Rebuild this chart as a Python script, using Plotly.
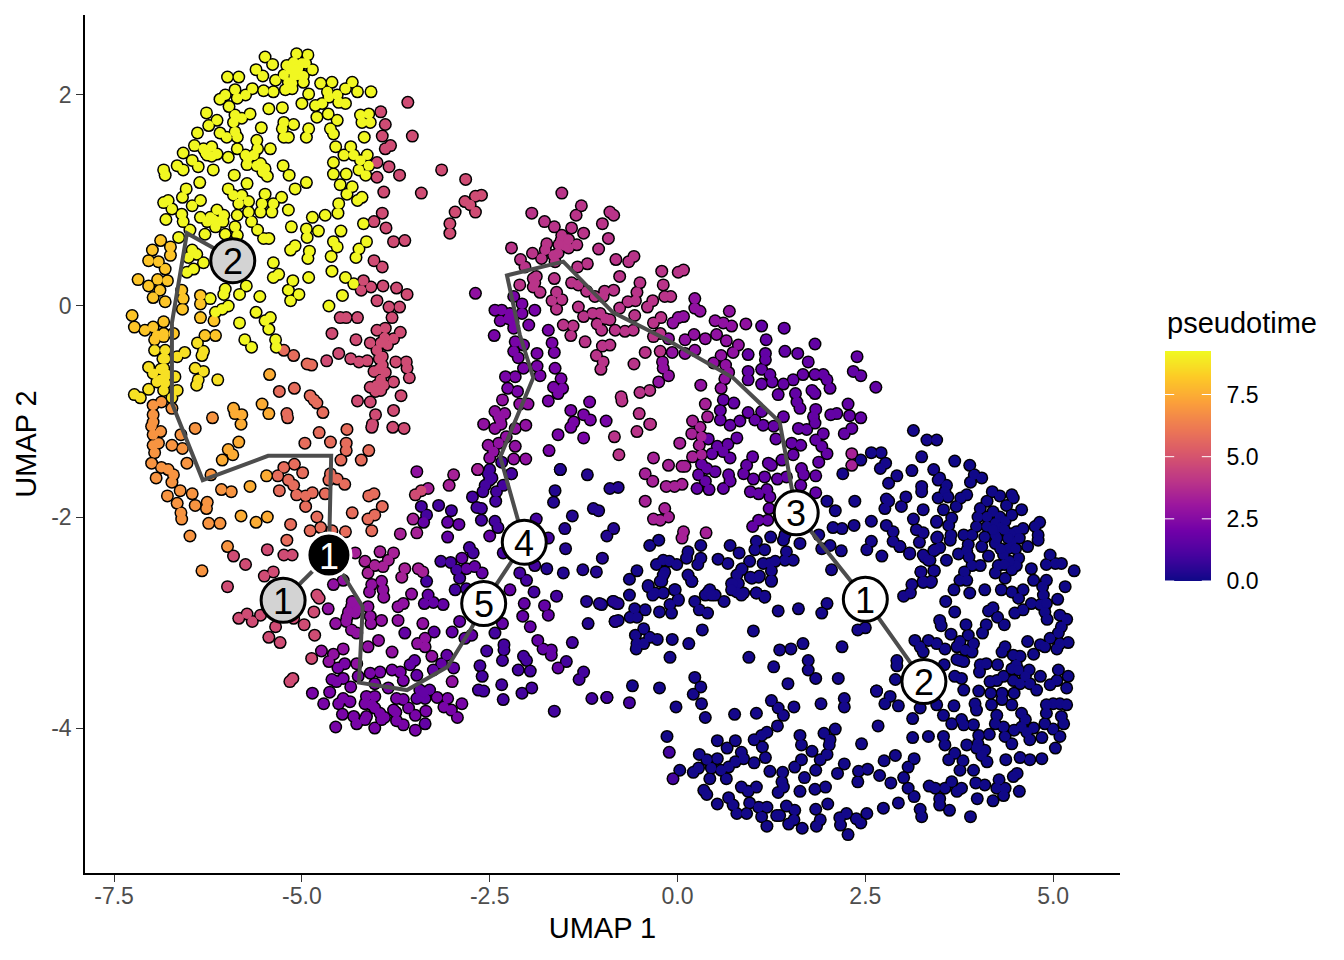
import plotly.graph_objects as go

# cells as (umap1, umap2), grouped by pseudotime shade
yellow = [(-5.07,2.39),(-4.92,2.38),(-5.49,2.36),(-5.39,2.29),(-5.11,2.31),(-4.95,2.30),(-4.86,2.24),(-5.15,2.24),(-5.61,2.24),(-5.52,2.18),(-5.24,2.19),(-5.04,2.19),(-5.99,2.17),(-5.84,2.17),(-5.35,2.14),(-5.13,2.11),(-4.98,2.12),(-4.75,2.11),(-4.60,2.12),(-5.51,2.04),(-5.38,2.03),(-5.22,2.05),(-5.13,2.06),(-4.91,2.01),(-4.66,2.03),(-4.64,1.98),(-4.53,2.0),(-4.42,2.06),(-4.33,2.12),(-4.26,2.03),(-4.08,2.03),(-4.51,1.93),(-4.42,1.92),(-5.0,1.92),(-4.82,1.90),(-4.73,1.92),(-5.44,1.87),(-5.26,1.88),
(-6.09,1.96),(-6.02,2.0),(-5.89,2.05),(-5.86,1.97),(-5.75,2.0),(-5.66,2.06),(-5.97,1.89),(-6.27,1.83),(-5.89,1.81),(-5.8,1.78),(-5.69,1.82),(-5.91,1.74),(-6.13,1.76),(-6.24,1.71),(-6.39,1.64),(-6.09,1.64),(-6.0,1.6),(-5.86,1.6),(-5.89,1.65),(-5.54,1.69),(-5.24,1.74),(-5.11,1.72),(-5.26,1.68),(-5.24,1.6),(-5.18,1.6),(-4.91,1.68),(-4.94,1.6),(-4.8,1.79),(-4.65,1.82),(-4.53,1.76),(-4.62,1.68),(-4.58,1.63),(-4.55,1.51),(-4.22,1.81),(-4.11,1.82),(-4.2,1.74),(-4.09,1.74),(-4.17,1.6),
(-6.43,1.52),(-6.58,1.45),(-6.31,1.49),(-6.2,1.51),(-6.13,1.44),(-6.26,1.43),(-5.6,1.57),(-5.42,1.49),(-5.59,1.49),(-5.86,1.49),(-5.98,1.41),(-5.75,1.43),(-5.64,1.43),(-4.35,1.51),(-4.44,1.43),(-4.58,1.36),(-4.31,1.43),(-4.13,1.43),(-4.22,1.38),(-4.11,1.33),(-4.24,1.29),(-4.15,1.24),(-4.58,1.25),(-4.41,1.25),(-6.84,1.29),(-6.82,1.24),(-6.66,1.33),(-6.58,1.29),(-6.46,1.38),(-6.38,1.32),(-6.18,1.29),(-5.73,1.34),(-5.6,1.33),(-5.49,1.3),(-5.46,1.23),(-5.9,1.24),(-5.25,1.33),(-5.17,1.24),(-5.73,1.16),(-6.36,1.17),(-5.09,1.11),(-4.94,1.17),(-4.49,1.15),(-4.33,1.13),(-4.4,1.06),(-4.2,1.03),(-4.26,1.0),(-4.51,.97),
(-6.54,1.11),(-6.59,1.03),(-6.84,.98),(-6.78,1.0),(-6.73,.92),(-6.46,.95),(-6.35,1.0),(-5.98,1.11),(-5.91,1.05),(-5.8,1.05),(-5.84,.97),(-5.71,.99),(-5.49,1.06),(-5.53,.97),(-5.27,1.03),(-5.38,.97),(-5.4,.89),(-5.55,.89),(-5.18,.91),(-6.13,.91),(-6.04,.86),(-6.22,.84),(-6.35,.84),(-6.11,.8),(-6.26,.8),(-6.6,.87),(-6.58,.8),(-6.81,.82),(-5.86,.86),(-5.71,.89),(-5.67,.8),(-5.89,.75),(-4.69,.86),(-4.52,.88),(-4.86,.84),(-4.18,.78),(-6.49,.72),(-6.64,.65),(-6.29,.68),(-6.02,.68),(-5.86,.67),(-5.59,.72),(-5.51,.64),(-5.44,.64),(-5.14,.75),(-4.94,.73),(-4.93,.65),(-4.78,.71),(-4.48,.71),
(-4.58,.61),(-4.53,.56),(-4.61,.47),(-4.14,.61),(-4.24,.54),(-4.28,.46),(-5.09,.57),(-5.15,.53),(-4.9,.52),(-4.92,.45),(-6.46,.53),(-6.4,.49),(-6.51,.46),(-6.31,.41),(-6.44,.35),(-6.53,.32),(-5.38,.41),(-4.6,.33),(-5.31,.3),(-5.38,.27),(-4.91,.27),(-4.42,.27),(-4.31,.21),(-5.12,.24),(-5.18,.15),(-5.04,.11),(-5.15,.05),(-6.02,.16),(-6.04,.11),(-5.83,.11),(-5.56,.09),(-5.74,.19),(-4.46,.1),(-4.64,.0),(-6.22,.07),(-5.98,.0),(-6.06,-.03),(-6.15,-.06),(-5.61,-.06),(-5.42,-.11),(-5.49,-.14),(-5.44,-.22),(-5.83,-.16),(-5.76,-.32),(-5.35,-.32),(-5.67,-.39),(-5.34,-.39),
(-5.2,2.28),(-5.05,2.25),(-5.0,2.3),(-5.1,2.18),(-4.98,2.18),(-5.08,2.24),(-5.18,2.12),(-6.28,1.45),(-6.2,1.42),(-5.72,1.4),(-5.55,1.35),(-5.52,1.27),(-6.18,.82),(-6.05,.8),(-6.15,.75)]
gold = [(-7.04,-.58),(-6.98,-.64),(-6.84,-.59),(-6.42,-.59),(-6.31,-.62),(-6.69,-.67),(-6.38,-.7),(-6.4,-.75),(-6.12,-.7),(-6.93,-.72),(-6.82,-.73),(-7.04,-.79),(-6.66,-.8),(-7.23,-.84),(-7.15,-.87),(-6.82,-.67),(-6.73,-.87),(-6.82,-.42),(-6.82,-.5),(-6.56,-.44),(-6.66,-.48),(-6.96,-.42),(-6.39,-.35),(-6.31,-.43),(-6.33,-.47),(-6.85,-.5),(-6.88,-.6),(-6.8,-.65),(-6.88,-.7),(-6.84,-.8)]
amber = [(-6.88,.62),(-6.75,.56),(-6.99,.53),(-7.04,.43),(-6.91,.42),(-6.75,.48),(-6.82,.35),(-7.18,.25),(-7.04,.19),(-6.92,.25),(-6.79,.24),(-6.89,.15),(-6.98,.08),(-6.82,.04),(-6.6,.15),(-6.58,.07),(-6.59,-.03),(-6.35,.1),(-6.35,.02),(-6.35,-.11),(-6.17,-.14),(-7.26,-.09),(-7.23,-.2),(-7.09,-.23),(-6.98,-.2),(-6.84,-.15),(-6.93,-.28),(-6.84,-.26),(-6.71,-.26),(-6.29,-.28),(-6.15,-.28),(-6.96,-.32),(-6.84,-.29)]
light_orange = [(-5.91,-.97),(-5.89,-1.02),(-5.8,-1.03),(-5.81,-1.12),(-5.84,-1.29),(-5.98,-1.36),(-5.92,-1.41),(-6.06,-1.46),(-5.53,-.93),(-5.44,-1.02),(-5.43,-.65),(-5.47,-1.61),(-5.69,-1.71),(-5.81,-1.99),(-5.61,-2.05),(-5.46,-2.0)]
orange = [(-6.98,-.94),(-6.87,-.91),(-6.73,-.97),(-6.98,-1.03),(-6.98,-1.1),(-7.0,-1.14),(-6.98,-1.22),(-6.88,-1.19),(-6.91,-1.3),(-6.98,-1.32),(-6.96,-1.39),(-7.0,-1.49),(-6.87,-1.53),(-6.78,-1.55),(-6.71,-1.6),(-6.73,-1.67),(-6.94,-1.63),(-6.79,-1.8),(-6.62,-1.75),(-6.66,-1.87),(-6.61,-1.96),(-6.6,-2.02),(-6.46,-1.78),(-6.42,-1.89),(-6.26,-1.86),(-6.27,-1.92),(-6.24,-2.06),(-6.09,-2.06),(-6.49,-2.18),(-6.33,-2.51),(-5.99,-2.28),(-6.73,-1.32),(-6.59,-1.35),(-6.61,-1.22),(-6.42,-1.16),(-6.53,-1.49),(-6.19,-1.06),(-6.21,-1.6),(-6.07,-1.74),(-5.94,-1.76)]
salmon = [(-5.24,-.42),(-5.11,-.47),(-4.93,-.55),(-4.87,-.56),(-5.3,-.81),(-5.1,-.78),(-4.89,-.85),(-4.84,-.89),(-4.8,-.92),(-4.72,-1.01),(-5.2,-1.02),(-5.19,-1.06),(-4.77,-1.2),(-4.96,-1.3),(-4.62,-1.29),(-4.4,-1.17),(-4.41,-1.3),(-4.41,-1.37),(-4.48,-1.46),(-5.24,-1.53),(-5.1,-1.5),(-4.99,-1.58),(-5.32,-1.61),(-5.18,-1.65),(-5.11,-1.7),(-5.3,-1.75),(-5.07,-1.79),(-4.95,-1.8),(-4.86,-1.77),(-4.95,-1.9),(-4.69,-1.78),(-4.62,-1.59),(-4.64,-1.65),(-4.53,-1.64),(-4.43,-1.69),(-4.21,-1.46),(-4.11,-1.37),(-4.11,-1.8),(-4.04,-1.78),(-3.93,-1.9),(-4.03,-1.98),(-4.12,-2.02),(-4.33,-1.96),(-4.07,-2.13),(-5.15,-2.07),(-4.8,-2.0),(-4.75,-2.1),(-4.89,-2.13),(-4.6,-2.13),(-4.42,-2.14),(-5.2,-2.22)]
rose = [(-4.6,-.26),(-4.28,-.32),(-4.0,-.23),(-3.89,-.21),(-3.69,-.25),(-3.78,-.31),(-4.09,-.35),(-3.86,-.37),(-4.0,-.42),(-3.93,-.48),(-4.51,-.45),(-4.67,-.52),(-4.35,-.5),(-4.24,-.53),(-4.13,-.52),(-3.93,-.56),(-4.04,-.62),(-3.89,-.63),(-3.75,-.53),(-3.61,-.53),(-3.6,-.59),(-3.57,-.68),(-3.78,-.72),(-4.09,-.77),(-4.0,-.75),(-3.91,-.75),(-4.02,-.81),(-3.68,-.85),(-4.26,-.9),(-4.09,-.91),(-3.78,-.99),(-4.02,-1.03),(-4.06,-1.12),(-4.07,-1.15),(-3.79,-1.15),(-3.64,-1.16),(-3.97,-.5),(-3.97,-.6),(-3.95,-.7),(-3.95,-.8),(-3.9,-.3),(-3.95,-.35),
(-3.59,1.93),(-3.95,1.84),(-3.89,1.72),(-3.93,1.61),(-3.53,1.61),(-3.82,1.52),(-3.89,1.49),(-4.0,1.36),(-3.84,1.32),(-4.0,1.22),(-3.7,1.24),(-3.91,1.08),(-3.41,1.07),(-3.93,.88),(-4.04,.8),(-3.88,.74),(-3.78,.61),(-3.63,.62),(-4.04,.43),(-3.93,.37),(-4.18,.24),(-4.21,.15),(-4.08,.18),(-3.92,.19),(-3.74,.17),(-3.6,.11),(-4.0,.05),(-3.84,-.01),(-3.7,-.01),(-3.8,-.11),(-4.49,-.11),(-4.41,-.11),(-4.26,-.11),(-3.14,1.29),(-2.82,1.2),(-2.61,1.05),(-2.69,1.04),(-2.83,.99),(-2.76,.96),(-2.96,.89),(-2.69,.89),(-3.03,.78),(-3.03,.69),
(-5.46,-2.31),(-5.24,-2.36),(-5.13,-2.36),(-5.91,-2.37),(-5.75,-2.45),(-5.99,-2.66),(-5.5,-2.56),(-5.38,-2.52),(-5.84,-2.96),(-5.73,-2.92),(-5.66,-2.99),(-5.55,-2.93),(-5.35,-3.04),(-5.11,-2.96),(-4.97,-3.02),(-4.84,-2.9),(-4.8,-2.74),(-4.77,-2.77),(-4.83,-3.12),(-5.44,-3.14),(-5.29,-3.19),(-5.12,-3.53),(-5.16,-3.56),(-4.87,-3.34),(-3.49,-1.79),(-3.41,-1.75)]
magenta = [(-1.54,1.07),(-1.28,.95),(-1.35,.86),(-1.94,.88),(-1.77,.8),(-.9,.89),(-.85,.86),(-1.0,.78),(-1.25,.69),(-1.64,.75),(-1.41,.74),(-1.54,.67),(-1.47,.63),(-.92,.64),(-1.74,.59),(-1.76,.53),(-1.34,.58),(-1.45,.55),(-1.05,.54),(-2.21,.55),(-1.93,.5),(-1.59,.5),(-1.81,.45),(-1.63,.42),(-2.09,.44),(-2.03,.37),(-1.2,.4),(-1.33,.37),(-.82,.44),(-.65,.42),(-.58,.47),(-.77,.28),(-1.92,.26),(-1.64,.26),(-2.1,.2),(-1.92,.18),(-1.83,.13),(-1.61,.13),(-1.41,.22),(-1.32,.2),(-1.21,.14),(-1.67,.05),(-1.54,.06),(-1.61,-.03),(-1.1,.09),(-.97,.14),(-.99,.09),(-.85,.15),(-1.55,.62),(-1.5,.57),(-1.58,.58),(-1.45,.63),(-1.65,.48),(-1.9,.22),(-1.88,.28),
(-.21,.33),(.01,.32),(.08,.34),(-.19,.2),(-.5,.22),(-.54,.13),(-.17,.09),(-.09,.09),(-.66,.04),(-.56,.05),(-.33,.05),(-.4,-.01),(-.77,-.02),(-1.32,-.01),(-1.25,-.1),(-1.13,-.07),(-1.03,-.07),(-.96,-.12),(-1.07,-.17),(-1.01,-.23),(-.9,-.13),(-.83,-.23),(-.7,-.24),(-.59,-.23),(-.57,-.09),(-1.52,-.18),(-1.39,-.19),(-1.42,-.28),(-1.23,-.34),(-1.0,-.38),(-.9,-.37),(-1.08,-.47),(-.99,-.53),(-1.02,-.6),(-.43,-.44),(-.58,-.55),(-.32,-.16),(-.22,-.11),(-.32,-.29),(-.23,-.26),(-.23,-.43),(-.5,-.82),(-.37,-.8),(-.75,-.86),(-.74,-.9),(-.51,-1.02),(-.84,-1.24),(-.54,-1.19),(-.78,-1.41),(-.36,-1.12)]
pink_purple = [(.37,-.93),(.4,-1.05),(.2,-1.09),(.3,-1.15),(.19,-1.21),(.32,-1.24),(.29,-1.32),(.2,-1.43),(.32,-1.41),(.03,-1.3),(-.32,-1.44),(-.12,-1.51),(.06,-1.52),(.1,-1.52),(-.43,-1.59),(-.33,-1.66),(-.15,-1.71),(-.04,-1.71),(.06,-1.69),(-.37,-1.12),(-.17,-1.92),(-.23,-2.03),(-.12,-2.0),(-.32,-2.02),(-.43,-1.85),(2.32,-1.4),(2.32,-1.51),(.08,-2.14),(.06,-2.2),(.38,-2.15),
(-2.98,-1.6),(-3.04,-1.7),(-2.66,-1.55),(-3.32,-1.73),(-3.52,-2.02),(-3.69,-2.16),(-3.47,-2.15),(-4.29,-2.34),(-4.16,-2.42),(-4.03,-2.46),(-4.12,-2.53),(-3.96,-2.33),(-3.78,-2.34),(-3.85,-2.41),(-3.92,-2.47),(-3.63,-2.49),(-3.67,-2.57),(-3.45,-2.49),(-3.39,-2.52)]
purple = [(-3.47,-1.57),(-4.07,-2.64),(-4.1,-2.71),(-3.94,-2.61),(-3.92,-2.69),(-3.91,-2.76),(-4.58,-2.64),(-4.45,-2.6),(-3.54,-2.73),(-3.65,-2.82),(-3.72,-2.85),(-4.34,-2.85),(-4.29,-2.91),(-4.12,-2.85),(-4.65,-2.87),(-4.55,-3.01),(-4.41,-2.99),(-4.09,-2.94),(-4.08,-3.01),(-3.94,-2.98),(-3.72,-2.98),(-4.34,-3.07),(-4.27,-3.1),(-3.98,-3.17),(-4.12,-3.23),(-3.8,-3.28),(-3.39,-3.01),(-3.46,-3.2),(-3.36,-3.15),(-3.36,-3.23),(-3.27,-3.32),(-4.74,-3.27),(-4.45,-3.25),(-4.58,-3.3),(-4.64,-3.37),(-4.27,-3.39),(-3.0,-3.56),(-4.3,-2.82),(-4.38,-2.9),(-4.25,-2.87),(-4.33,-2.8),(-4.4,-2.95),
(.23,.07),(.23,-.02),(.3,-.05),(.08,-.1),(.01,-.11),(-.06,-.16),(.1,-.32),(.22,-.27),(.37,-.31),(.23,-.42),(.1,-.45),(-.07,-.44),(-.12,-.31),(-.2,-.53),(-.19,-.59),(-.12,-.66),(-.25,-.72),(.5,-.14),(.61,-.16),(.72,-.19),(.69,-.05),(.91,-.17),(.52,-.27),(.65,-.33),(.81,-.37),(.74,-.44),(.58,-.47),(.48,-.54),(.64,-.56),(.68,-.63),(.63,-.69),(.58,-.78),(.31,-.75),
(-2.69,.12),(-2.33,-.89),(-2.43,-1.0),(-2.3,-1.02),(-2.36,-1.08),(-2.43,-1.16),(-2.58,-1.12),(-2.1,-.93),(-1.99,-.93),(-2.02,-1.13),(-2.16,-1.16),(-2.28,-1.24),(-2.52,-1.32),(-2.38,-1.3),(-2.16,-1.33),(-2.45,-1.38),(-2.5,-1.44),(-2.18,-1.45),(-2.02,-1.45),(-2.66,-1.55),(-2.38,-1.05),(-2.35,-1.12)]
deep_purple = [(-4.43,-3.39),(-4.52,-3.43),(-4.6,-3.54),(-4.45,-3.53),(-4.54,-3.56),(-4.25,-3.51),(-4.09,-3.48),(-3.96,-3.47),(-3.8,-3.45),(-3.69,-3.47),(-3.65,-3.55),(-4.03,-3.58),(-3.85,-3.62),(-4.35,-3.61),(-4.63,-3.66),(-4.86,-3.67),(-4.71,-3.77),(-4.45,-3.72),(-4.51,-3.77),(-4.36,-3.75),(-4.14,-3.7),(-4.03,-3.7),(-4.16,-3.77),(-4.07,-3.78),(-4.46,-3.87),(-4.31,-3.89),(-4.27,-3.96),(-4.14,-3.89),(-4.03,-3.81),(-3.96,-3.86),(-3.94,-3.92),(-4.55,-3.99),(-4.03,-4.0),(-3.78,-3.83),(-3.74,-3.72),(-3.65,-3.73),(-3.58,-3.81),(-3.49,-3.88),(-3.74,-3.93),(-3.65,-3.97),(-3.49,-4.02),(-4.16,-3.92),(-3.2,-3.71),(-3.06,-3.72),(-3.11,-3.8),(-3.01,-3.83),(-2.93,-3.9),(-2.87,-3.77),(-3.35,-3.84),(-3.9,-3.9),(-3.75,-3.85),
(-2.18,.09),(-2.07,.02),(-2.43,-.04),(-2.34,-.04),(-2.23,-.07),(-2.07,-.07),(-2.36,-.14),(-2.19,-.15),(-2.18,-.21),(-1.9,-.04),(-1.98,-.18),(-2.44,-.28),(-1.72,-.23),(-2.16,-.34),(-2.05,-.37),(-1.67,-.35),(-2.18,-.43),(-1.64,-.44),(-2.12,-.49),(-1.87,-.45),(-2.05,-.59),(-1.87,-.57),(-2.16,-.67),(-2.29,-.67),(-1.83,-.66),(-1.63,-.59),(-1.55,-.69),(-1.65,-.77),(-1.53,-.78),(-1.59,-.83),(-2.26,-.78),(-2.13,-.81),(-1.72,-.9),(-1.17,-.91),(-1.42,-.99),(-1.25,-1.03),(-1.16,-1.08),(-1.38,-1.1),(-1.42,-1.15),(-.95,-1.09),(-1.59,-1.22),(-1.25,-1.25),(-1.71,-1.37),(-2.2,-.1),(-2.25,-.12)]
violet = [(-3.5,-3.36),(-3.56,-3.4),(-3.47,-3.5),(-3.25,-3.45),(-3.14,-3.39),(-3.43,-3.64),(-3.3,-3.64),(-3.47,-3.72),(-3.36,-3.72),(-3.36,-3.96),(-3.63,-3.1),(-3.24,-3.09),(-3.0,-3.09),(-3.07,-3.31),(-2.98,-3.43),(-3.38,-2.05),(-3.06,-2.05),(-2.91,-2.07),(-3.06,-2.19),(-2.5,-2.18),(-2.87,-2.39),(-2.7,-2.47),(-2.81,-2.49),(-2.6,-2.53),(-2.23,-2.69),(-3.37,-2.82),(-3.32,-2.74),(-3.25,-2.81),(-3.12,-2.83),(-2.04,-2.82),(-2.06,-2.94),(-1.77,-2.84),(-1.72,-2.93),(-1.96,-3.04),(-1.86,-3.17),(-1.79,-3.25),(-1.68,-3.26),(-1.68,-3.31),(-2.33,-3.01),(-2.74,-3.12),(-2.83,-3.15),(-2.9,-2.99),(-1.59,-3.43),(-3.42,-3.7),(-3.38,-3.66),
(1.12,-.19),(1.42,-.21),(1.18,-.32),(1.83,-.36),(1.43,-.43),(1.6,-.45),(1.17,-.45),(1.17,-.51),(2.39,-.48),(1.74,-.53),(.94,-.46),(.94,-.62),(.94,-.7),(1.12,-.6),(1.23,-.65),(1.26,-.72),(1.12,-.74),(1.41,-.74),(1.54,-.7),(1.67,-.65),(1.83,-.65),(1.94,-.65),(1.99,-.7),(2.03,-.78),(2.34,-.62),(2.44,-.66),(2.64,-.77),(1.79,-.8),(1.83,-.83),(1.57,-.83),(1.34,-.84),(1.59,-.91),(1.63,-.97),(1.84,-.98),(2.27,-.93),(2.12,-1.02),(2.04,-1.03),(2.29,-1.04),(2.44,-1.06),(1.81,-1.05),(1.83,-1.11),(1.61,-1.16),(1.72,-1.17),(1.41,-1.05),(2.32,-1.16),(2.22,-1.21),(1.94,-1.21),(1.84,-1.27),(1.92,-1.33),(1.99,-1.4),(1.88,-1.48),(1.64,-1.32),(1.52,-1.3),(1.54,-1.41),(1.31,-1.26),(1.39,-1.46),(1.21,-1.49),(1.25,-1.51),(1.0,-1.43),(.92,-1.51),(.88,-1.59),(1.01,-1.64),(1.16,-1.62),(1.33,-1.64),(1.45,-1.62),(1.65,-1.54),(1.68,-1.6),(1.84,-1.61),(1.64,-1.7),(1.84,-1.77),(.97,-1.76),(1.08,-1.78),(1.19,-1.74),(1.23,-1.81),(1.22,-1.92),(1.2,-2.03),(1.08,-2.03),(1.0,-2.09),
(.61,-.89),(.75,-.92),(.57,-.99),(.57,-1.08),(.7,-1.13),(.83,-1.09),(.94,-1.01),(1.03,-1.08),(1.14,-1.13),(1.28,-1.14),(1.12,-1.0),(.79,-1.25),(.41,-1.26),(.67,-1.31),(.53,-1.33),(.46,-1.4),(.61,-1.38),(.7,-1.44),(.32,-1.5),(.39,-1.54),(.5,-1.57),(.28,-1.6),(.26,-1.73),(.42,-1.74),(.37,-1.66),(.61,-1.73),(.68,-1.6),(.7,-1.66)]
indigo = [(-3.41,-1.9),(-3.34,-1.98),(-3.18,-1.89),(-3.01,-1.94),(-3.34,-2.61),(-3.15,-2.42),(-3.02,-2.43),(-2.94,-2.5),(-2.9,-2.58),(-2.77,-2.29),(-2.72,-2.34),(-2.96,-2.69),(-2.81,-2.68),(-2.52,-1.59),(-2.5,-1.65),(-2.56,-1.7),(-2.59,-1.76),(-2.41,-1.76),(-2.73,-1.81),(-2.67,-1.91),(-2.61,-1.92),(-2.42,-1.85),(-2.61,-2.03),(-2.43,-2.04),(-2.39,-2.1),(-2.21,-1.59),(-2.32,-1.7),(-1.88,-2.02),(-1.72,-2.2),(-1.9,-2.46),(-2.1,-2.53),(-2.01,-2.6),(-1.91,-2.71),(-1.61,-2.75),(-2.54,-3.27),(-2.31,-3.21),(-2.31,-3.26),(-2.33,-3.36),(-2.05,-3.32),(-2.01,-3.36),(-2.12,-3.45),(-1.96,-3.46),(-2.63,-3.41),(-2.6,-3.51),(-2.65,-3.64),(-2.58,-3.65),(-2.34,-3.59),(-2.32,-3.73),(-2.07,-3.67),(-1.94,-3.62),(-1.4,-3.19),(-1.48,-3.37),(-1.31,-3.54),(-1.25,-3.47),(-1.14,-3.72),(-.94,-3.71),(-1.64,-3.84),(-2.43,-3.1),(-2.32,-2.34),(-2.34,-1.48),(-2.5,-1.55),(-2.21,-1.59),(-2.47,-1.63),(-.11,-4.23),(-.06,-4.48),(-.94,-3.71),(-.64,-3.76)]
navy_mid = [(-1.56,-1.55),(-1.2,-1.6),(-.9,-1.73),(-.79,-1.72),(-1.63,-1.75),(-1.65,-1.86),(-1.12,-1.92),(-1.05,-1.94),(-1.4,-1.99),(-1.5,-2.11),(-1.49,-2.3),(-.94,-2.18),(-.85,-2.11),(-1.0,-2.39),(-1.74,-2.49),(-1.52,-2.53),(-1.26,-2.5),(-1.08,-2.52),(-1.21,-2.8),(-1.04,-2.82),(-.85,-2.8),(-.79,-2.82),(-1.19,-3.01),(-.83,-2.99),(-1.56,-1.55)]
navy_centre = [(3.14,-1.18),(3.32,-1.27),(3.45,-1.27),(3.25,-1.43),(3.41,-1.55),(3.12,-1.56),(2.58,-1.39),(2.71,-1.39),(2.77,-1.49),(2.7,-1.54),(2.44,-1.46),(2.2,-1.59),(2.92,-1.61),(2.81,-1.68),(3.25,-1.71),(3.25,-1.76),(3.47,-1.65),(3.04,-1.81),(2.78,-1.83),(2.81,-1.85),(2.76,-1.92),(2.98,-1.9),(3.27,-1.93),(2.36,-1.85),(1.99,-1.85),(2.1,-1.94),(2.58,-2.04),(2.35,-2.08),(2.78,-2.08),(2.07,-2.1),(2.19,-2.11),(3.14,-2.02),(3.45,-2.04),(3.18,-2.12),(3.27,-2.15),(2.87,-2.14),(2.87,-2.23),(2.96,-2.28),(3.09,-2.34),(3.22,-2.24),(3.45,-2.2),(3.43,-2.31),(3.27,-2.36),(3.34,-2.41),(2.58,-2.23),(2.52,-2.31),(2.72,-2.37),(2.18,-2.32),(2.03,-2.27),(1.92,-2.3),(1.88,-2.17),(2.05,-2.5),(3.24,-2.52),(3.41,-2.51),(3.12,-2.64),(3.27,-2.61),(3.38,-2.61),(3.01,-2.75),(3.1,-2.72),
(1.24,-2.19),(1.41,-2.22),(1.63,-2.25),(1.43,-2.17),(1.05,-2.23),(1.03,-2.31),(1.16,-2.31),(.7,-2.27),(.82,-2.34),(.31,-2.27),(.14,-2.33),(.12,-2.39),(-.25,-2.22),(-.37,-2.27),(.54,-2.4),(.67,-2.44),(.31,-2.39),(.27,-2.45),(1.45,-2.33),(1.43,-2.41),(1.54,-2.41),(1.14,-2.44),(1.23,-2.44),(1.3,-2.42),(.96,-2.42),(1.25,-2.51),(1.25,-2.61),(.86,-2.49),(.97,-2.57),(1.08,-2.57),(.79,-2.55),(.72,-2.63),(.81,-2.63),(.79,-2.71),(.88,-2.72),(1.05,-2.72),(1.16,-2.75),(.43,-2.69),(.37,-2.74),(.5,-2.74),(.14,-2.55),(.19,-2.61),(-.28,-2.45),(-.19,-2.41),(-.11,-2.42),(-.01,-2.45),(-.17,-2.52),(-.21,-2.61),(-.39,-2.66),(-.3,-2.72),(-.19,-2.72),(-.04,-2.69),(.01,-2.78),
(-.54,-2.51),(-.64,-2.59),(-1.01,-2.83),(-.86,-2.8),(-.81,-2.82),(-.64,-2.74),(-.83,-2.99),(-.79,-2.98),(-.39,-2.65),(-.33,-2.74),(-.19,-2.72),(-.03,-2.69),(-.19,-2.55),(-.23,-2.61),(.19,-2.61),(.23,-2.8),(.29,-2.88),(.4,-2.91),(.01,-2.79),(-.1,-2.83),(-.08,-2.91),(-.24,-2.9),(-.43,-2.88),(-.57,-2.87),(-.63,-2.95),(-.54,-2.95),(-.45,-3.06),(-.56,-3.12),(-.37,-3.14),(-.27,-3.16),(-.54,-3.2),(-.45,-3.2),(-.55,-3.25),(-.07,-3.16),(.15,-3.2),(.33,-3.07),(-.1,-3.33),
(.41,-2.71),(.45,-2.74),(.62,-2.8),(.74,-2.63),(.72,-2.69),(.85,-2.74),(.85,-2.5),(.99,-2.58),(1.09,-2.56),(1.25,-2.6),(1.05,-2.72),(1.16,-2.76),(1.34,-2.89),(1.61,-2.87),(1.99,-2.82),(1.92,-2.91),(1.01,-3.08),(1.36,-3.26),(1.51,-3.25),(1.67,-3.2),(2.19,-3.23),(.95,-3.33),(1.74,-3.36),(1.74,-3.45),(1.84,-3.53),(1.28,-3.42),(2.14,-3.53),(1.47,-3.58),(2.4,-3.07),(2.5,-3.05),
(.23,-3.52),(.31,-3.61),(.21,-3.68),(.32,-3.77),(-.02,-3.8),(-.24,-3.62),(-.6,-3.6),(.37,-3.9),(.76,-3.87),(1.05,-3.86),(1.25,-3.74),(1.34,-3.81),(1.41,-3.88),(1.55,-3.8),(1.91,-3.77),(2.22,-3.72),(2.22,-3.8),(1.33,-3.98),(2.67,-3.98),(2.65,-3.65)]
navy_bottom = [(1.19,-4.04),(1.12,-4.07),(1.02,-4.11),(1.13,-4.18),(1.63,-4.07),(1.65,-4.16),(1.95,-4.05),(2.1,-4.01),(2.03,-4.11),(2.02,-4.16),(2.45,-4.15),(.53,-4.12),(.77,-4.12),(.66,-4.19),(-.14,-4.08),(.29,-4.25),(.39,-4.3),(.53,-4.29),(.85,-4.23),(.88,-4.29),(.77,-4.32),(.68,-4.37),(.58,-4.4),(.45,-4.38),(.43,-4.48),(.65,-4.48),(1.02,-4.33),(1.17,-4.28),(1.23,-4.41),(1.4,-4.42),(1.56,-4.37),(1.65,-4.3),(1.79,-4.22),(1.9,-4.3),(1.99,-4.25),(1.84,-4.4),(1.69,-4.47),(2.22,-4.34),(2.13,-4.43),(2.41,-4.41),(2.53,-4.39),(2.75,-4.31),(2.9,-4.26),(2.69,-4.45),(2.4,-4.51),(2.84,-4.52),(.03,-4.4),(.21,-4.42),(.28,-4.38),
(.85,-4.56),(.94,-4.6),(1.05,-4.56),(1.39,-4.51),(1.41,-4.56),(1.34,-4.61),(1.63,-4.6),(1.83,-4.58),(1.97,-4.56),(.35,-4.59),(.39,-4.63),(.53,-4.72),(.68,-4.66),(.74,-4.73),(.79,-4.81),(.92,-4.81),(.96,-4.71),(1.08,-4.75),(1.19,-4.75),(1.12,-4.84),(1.19,-4.93),(1.32,-4.83),(1.36,-4.83),(1.45,-4.74),(1.56,-4.78),(1.55,-4.87),(1.48,-4.91),(1.66,-4.95),(1.84,-4.77),(2.0,-4.72),(1.9,-4.87),(1.85,-4.93),(2.16,-4.85),(2.17,-4.92),(2.25,-4.81),(2.38,-4.86),(2.44,-4.9),(2.52,-4.81),(2.27,-5.01),(2.74,-4.76),(2.94,-4.71)]
navy_right = [(3.69,-1.47),(3.89,-1.51),(3.95,-1.6),(4.05,-1.63),(3.9,-1.67),(3.49,-1.63),(3.58,-1.7),(3.56,-1.76),(3.47,-1.82),(3.6,-1.81),(3.85,-1.79),(3.77,-1.82),(3.71,-1.9),(3.54,-1.93),(4.19,-1.76),(4.29,-1.8),(4.45,-1.79),(4.47,-1.82),(4.12,-1.85),(4.03,-1.92),(4.38,-1.89),(4.58,-1.93),(4.0,-2.0),(4.2,-1.95),(4.29,-2.0),(4.45,-1.98),(4.82,-2.05),(4.76,-2.09),(4.6,-2.11),(4.51,-2.14),(4.8,-2.17),(4.8,-2.22),(3.98,-2.09),(4.12,-2.09),(4.23,-2.06),(4.36,-2.04),(3.65,-2.01),(3.61,-2.08),(3.64,-2.17),(3.63,-2.22),(3.81,-2.17),(3.92,-2.17),(3.45,-2.05),(3.46,-2.19),(4.09,-2.19),(4.23,-2.17),(4.43,-2.16),(4.45,-2.23),(4.23,-2.25),(4.05,-2.28),(3.87,-2.26),(3.85,-2.32),(3.74,-2.35),(3.49,-2.29),(3.41,-2.32),(3.88,-2.38),(4.14,-2.37),(4.4,-2.3),(4.34,-2.36),(4.66,-2.28),(4.54,-2.39),(3.58,-2.41),(3.29,-2.38),(3.36,-2.41),(3.09,-2.35),(2.96,-2.28),(3.92,-2.46),(4.03,-2.46),(4.27,-2.46),(4.51,-2.46),(4.45,-2.5),(4.23,-2.53),(4.36,-2.58),(3.82,-2.52),(3.76,-2.6),(3.85,-2.6),(3.24,-2.52),(3.42,-2.51),(3.27,-2.62),(3.37,-2.62),(4.3,-2.1),(4.4,-2.2),(4.35,-2.12),(4.25,-2.2),(4.3,-2.3),(4.42,-2.42),(4.35,-2.45),(4.2,-2.12),(4.12,-2.0),(4.55,-2.2),(4.5,-2.3),
(4.96,-2.36),(4.91,-2.45),(5.03,-2.44),(5.11,-2.44),(5.28,-2.51),(4.71,-2.49),(4.74,-2.6),(4.91,-2.6),(4.86,-2.66),(5.16,-2.66),(3.68,-2.69),(3.89,-2.72),(4.09,-2.69),(4.31,-2.69),(4.45,-2.71),(4.6,-2.69),(4.54,-2.77),(4.87,-2.74),(4.71,-2.82),(4.83,-2.83),(4.91,-2.82),(5.06,-2.78),(4.6,-2.88),(4.49,-2.91),(4.89,-2.9),(4.92,-2.97),(3.57,-2.8),(3.69,-2.9),(4.2,-2.86),(4.14,-2.89),(4.26,-2.95),(4.35,-3.02),(5.09,-2.93),(5.18,-2.97),(5.11,-3.04),(5.07,-3.1),(4.96,-3.15),(4.66,-3.18),(4.83,-3.21),(4.89,-3.23),(5.05,-3.25),(5.2,-3.19),(5.09,-3.2),(3.49,-2.98),(3.51,-3.03),(3.64,-3.11),(3.84,-3.02),(4.11,-3.02),(4.06,-3.1),(3.87,-3.12),(3.76,-3.18),(3.94,-3.2),(3.83,-3.26),(3.72,-3.23),(3.76,-3.36),(3.92,-3.28),(3.81,-3.37),(3.72,-3.35),(3.34,-3.17),(3.45,-3.2),(3.56,-3.25),(3.16,-3.17),(3.23,-3.23),(3.27,-3.28),(4.36,-3.23),(4.32,-3.28),(4.74,-3.3),(4.47,-3.31),(4.56,-3.32),(4.51,-3.4),(4.45,-3.44),(4.54,-3.45),(4.03,-3.4),(4.02,-3.47),(4.11,-3.39),(4.26,-3.4),(3.69,-3.51),(3.78,-3.53),(5.07,-3.45),(5.2,-3.51),(5.05,-3.55),(4.96,-3.59),(5.18,-3.62),(4.83,-3.51),(4.68,-3.45),(4.63,-3.51),(4.69,-3.58),(4.78,-3.64),(4.34,-3.51),(4.25,-3.55),(4.16,-3.56),(4.47,-3.55),(4.56,-3.58),(4.48,-3.67),(3.81,-3.64),(4.01,-3.65),(4.17,-3.67),(4.32,-3.67),(4.32,-3.73),(4.45,-3.78),(3.96,-3.77),(3.98,-3.83),(4.18,-3.78),(4.25,-3.88),(4.23,-3.96),(3.68,-3.79),(3.54,-3.88),(3.45,-3.78),(3.23,-3.81),(2.94,-3.79),(2.83,-3.7),(2.76,-3.77),(2.65,-3.65),(2.9,-3.54),(2.92,-3.36),(2.92,-3.41),(3.55,-3.4),
(5.0,-3.77),(5.09,-3.77),(5.18,-3.78),(4.91,-3.78),(4.91,-3.86),(4.58,-3.86),(4.63,-3.92),(5.11,-3.89),(5.14,-3.96),(4.89,-3.96),(5.0,-4.01),(5.09,-4.08),(4.58,-3.99),(4.74,-4.0),(4.65,-4.04),(4.69,-4.11),(4.85,-4.09),(4.34,-3.99),(4.48,-4.02),(4.36,-4.08),(4.45,-4.15),(3.94,-3.97),(3.78,-3.92),(3.65,-3.96),(3.81,-3.97),(3.54,-4.08),(3.56,-4.16),(3.34,-4.08),(3.13,-4.09),(3.13,-3.91),(4.15,-4.06),(4.01,-4.07),(4.0,-4.15),(4.09,-4.21),(3.85,-4.16),(3.98,-4.19),(4.05,-4.26),(4.12,-4.32),(5.03,-4.19),(4.85,-4.29),(4.69,-4.3),(4.56,-4.28),(4.37,-4.3),(3.69,-4.24),(3.61,-4.3),(3.8,-4.31),(3.76,-4.4),(3.94,-4.4),(3.15,-4.29),(3.07,-4.37),(3.01,-4.47),(3.07,-4.57),(3.15,-4.65),(3.23,-4.77),(3.25,-4.84),(4.52,-4.43),(4.47,-4.46),(3.35,-4.55),(3.43,-4.57),(3.56,-4.57),(3.65,-4.51),(3.72,-4.6),(3.78,-4.57),(3.49,-4.67),(3.49,-4.73),(3.62,-4.78),(3.9,-4.84),(3.97,-4.52),(4.09,-4.54),(3.99,-4.67),(4.2,-4.69),(4.28,-4.49),(4.25,-4.57),(4.36,-4.57),(4.34,-4.64),(4.55,-4.6)]

cell_groups = [navy_right, navy_bottom, navy_centre, navy_mid, indigo, violet, deep_purple, purple, pink_purple, magenta, rose, salmon, orange, light_orange, amber, gold, yellow]
group_time = [0.05, 0.1, 0.15, 0.4, 1.0, 1.7, 2.2, 2.8, 3.4, 4.0, 4.8, 5.8, 6.9, 7.5, 8.1, 8.7, 9.2]

umap1 = []
umap2 = []
pseudotime = []
for group, t in zip(cell_groups, group_time):
    for a, b in group:
        umap1.append(a)
        umap2.append(b)
        pseudotime.append(t)

# trajectory branches
branch_left_x = [-5.92, -6.20, -6.53, -6.73, -6.73, -6.32, -5.45, -4.61, -4.64]
branch_left_y = [0.43, 0.56, 0.69, -0.16, -0.92, -1.65, -1.42, -1.42, -2.36]
branch_short_x = [-4.64, -5.25]
branch_short_y = [-2.36, -2.79]
branch_main_x = [-4.64, -4.45, -4.19, -4.24, -3.60, -3.06, -2.74, -2.58, -2.04, -2.36, -1.92, -2.10, -2.27, -1.52, -0.86, -0.14, 0.74, 1.36, 1.58, 2.50, 3.28]
branch_main_y = [-2.36, -2.55, -2.85, -3.57, -3.64, -3.42, -3.05, -2.82, -2.24, -1.43, -0.68, -0.27, 0.29, 0.42, -0.06, -0.32, -0.68, -1.10, -1.96, -2.78, -3.56]

node_x = [-5.92, -5.25, -4.64, 2.50, 3.28, 1.58, -2.04, -2.58]
node_y = [0.43, -2.79, -2.36, -2.78, -3.56, -1.96, -2.24, -2.82]
node_label = ["2", "1", "1", "1", "2", "3", "4", "5"]
node_fill = ["#d3d3d3", "#d3d3d3", "black", "white", "white", "white", "white", "white"]
node_edge = ["black", "black", "white", "black", "black", "black", "black", "black"]
node_text = ["black", "black", "white", "black", "black", "black", "black", "black"]

x_ticks = [-7.5, -5.0, -2.5, 0.0, 2.5, 5.0]
x_labels = ["-7.5", "-5.0", "-2.5", "0.0", "2.5", "5.0"]
y_ticks = [-4, -2, 0, 2]
y_labels = ["-4", "-2", "0", "2"]
bar_ticks = [0, 2.5, 5.0, 7.5]
bar_labels = ["0.0", "2.5", "5.0", "7.5"]
time_max = 9.25
bar_levels = [0, 0.5, 1, 1.5, 2, 2.5, 3, 3.5, 4, 4.5, 5, 5.5, 6, 6.5, 7, 7.5, 8, 8.5, 9, 9.25]

FONT = "Liberation Sans"
W_PLOT = 1249  # plot area width in px, axes domains are fractions of this

fig = go.Figure()

# black halo under all the cells, so touching cells merge into one blob
fig.add_trace(go.Scatter(x=umap1, y=umap2, mode="markers", hoverinfo="skip",
                         marker=dict(size=13, color="black")))
fig.add_trace(go.Scatter(x=umap1, y=umap2, mode="markers",
                         marker=dict(size=10, color=pseudotime, colorscale="Plasma", cmin=0, cmax=time_max)))

for bx, by in [(branch_left_x, branch_left_y), (branch_short_x, branch_short_y), (branch_main_x, branch_main_y)]:
    fig.add_trace(go.Scatter(x=bx, y=by, mode="lines", hoverinfo="skip",
                             line=dict(color="#4d4d4d", width=4)))

fig.add_trace(go.Scatter(x=node_x, y=node_y, mode="markers", hoverinfo="skip",
                         marker=dict(size=44, color=node_fill, line=dict(color=node_edge, width=3))))

# colour bar as its own small axes so the white ticks can sit on top of it
fig.add_trace(go.Heatmap(z=[[v] for v in bar_levels], y=bar_levels, x=[0], xaxis="x2", yaxis="y2",
                         colorscale="Plasma", zmin=0, zmax=time_max, zsmooth="best", showscale=False, hoverinfo="skip"))

shapes = []
for t in bar_ticks:
    shapes.append(dict(type="line", xref="x2 domain", yref="y2", x0=0, x1=0.2, y0=t, y1=t, line=dict(color="white", width=1)))
    shapes.append(dict(type="line", xref="x2 domain", yref="y2", x0=0.8, x1=1, y0=t, y1=t, line=dict(color="white", width=1)))

annotations = [dict(xref="paper", yref="paper", x=1080 / W_PLOT, y=(873 - 323) / 858, xanchor="left", yanchor="middle",
                    text="pseudotime", showarrow=False, font=dict(size=29, color="black"))]
for nx, ny, label, colour in zip(node_x, node_y, node_label, node_text):
    annotations.append(dict(x=nx, y=ny, text=label, showarrow=False, yshift=-1,
                            font=dict(size=36, color=colour)))

fig.update_layout(
    width=1344, height=960, showlegend=False,
    paper_bgcolor="white", plot_bgcolor="white",
    margin=dict(l=85, r=10, t=15, b=87),
    font=dict(family=FONT),
    shapes=shapes, annotations=annotations,
    xaxis=dict(domain=[0, 1035 / W_PLOT], range=[-7.887, 5.89], tickvals=x_ticks, ticktext=x_labels, showgrid=False, zeroline=False,
               showline=True, linecolor="black", linewidth=1.5, ticks="outside", ticklen=7, tickcolor="#333333",
               tickfont=dict(size=23, color="#4d4d4d"), ticklabelstandoff=-5,
               title=dict(text="UMAP 1", font=dict(size=29, color="black"), standoff=9)),
    yaxis=dict(range=[-5.374, 2.758], tickvals=y_ticks, ticktext=y_labels, showgrid=False, zeroline=False,
               showline=True, linecolor="black", linewidth=1.5, ticks="outside", ticklen=7, tickcolor="#333333",
               tickfont=dict(size=23, color="#4d4d4d"),
               title=dict(text="UMAP 2", font=dict(size=29, color="black"), standoff=6)),
    xaxis2=dict(domain=[1080 / W_PLOT, 1126 / W_PLOT], anchor="y2", visible=False, showgrid=False, zeroline=False),
    yaxis2=dict(domain=[(873 - 581) / 858, (873 - 351) / 858], anchor="x2", side="right", range=[0, time_max],
                tickvals=bar_ticks, ticktext=bar_labels, showgrid=False, zeroline=False, showline=False,
                ticks="outside", ticklen=10, tickcolor="white", tickfont=dict(size=23, color="black")),
)

fig.write_html("out.html", config=dict(displayModeBar=False), post_script="document.body.style.margin='0';")
